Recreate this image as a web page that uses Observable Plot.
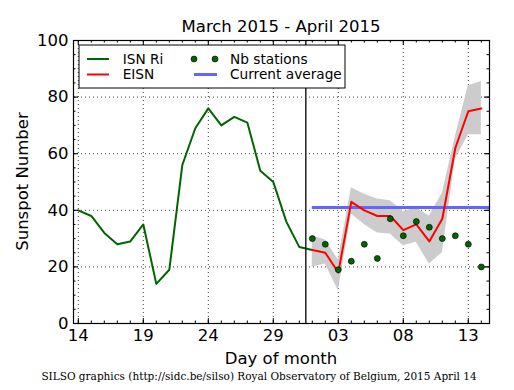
<!DOCTYPE html>
<html><head><meta charset="utf-8">
<script src="https://cdn.jsdelivr.net/npm/d3@7"></script>
<script src="https://cdn.jsdelivr.net/npm/@observablehq/plot@0.6"></script>
<style>body{margin:0;background:#fff}</style>
</head><body><div id="chart"></div>
<script>
// Day index 0 = 14 March 2015
const isnDays = [0,1,2,3,4,5,6,7,8,9,10,11,12,13,14,15,16,17,18];
const isnValues = [40,38,32,28,29,35,14,19,56,69,76,70,73,71,54,50,36,27,26];
const eisnDays = [18,19,20,21,22,23,24,25,26,27,28,29,30,31];
const eisnValues = [26,25,18,43,40,38,38,33,35,29,37,62,75,76];
const eisnUpper = [31,29.5,22.5,48,45.7,44,43.4,39.5,40.8,38,46,66,84,85.5];
const eisnLower = [20,21,11.6,38.7,35,32,31.6,27.5,28.7,21,25,58,66.7,66.7];
const stationValues = [30,28,19,22,28,23,37,31,36,34,30,31,28,20];
const currentAverage = 41;
const averageStart = 18;
const monthBreak = 17.5;
const xTickDays = [0,5,10,15,20,25,30];
const xTickLabels = ["14","19","24","29","03","08","13"];
const yTicks = [0,20,40,60,80,100];
const title = "March 2015 - April 2015";
const xLabel = "Day of month";
const yLabel = "Sunspot Number";
const caption = "SILSO graphics (http://sidc.be/silso) Royal Observatory of Belgium, 2015 April 14";
const legendItems = ["ISN Ri","EISN","Nb stations","Current average"];

const W = 514, H = 390, mL = 73, mR = 25, mT = 40, mB = 67;
const innerW = W - mL - mR, innerH = H - mT - mB;
const xDomain = [-0.37, 31.63];
const minorX = d3.range(0, 32);
const minorY = d3.range(5, 100, 5);

const isn = isnDays.map((d, i) => ({day: d, value: isnValues[i]}));
const eisn = eisnDays.map((d, i) => ({day: d, value: eisnValues[i], upper: eisnUpper[i], lower: eisnLower[i], stations: stationValues[i]}));

const green = "#006400", red = "#ff0000", blue = "#6464ff";
const font = "DejaVu Sans";

const chart = Plot.plot({
  width: W, height: H,
  marginLeft: mL, marginRight: mR, marginTop: mT, marginBottom: mB,
  x: {domain: xDomain, axis: null},
  y: {domain: [0, 100], axis: null},
  style: {fontFamily: font, background: "#fff", color: "#000"},
  marks: [
    Plot.ruleX(xTickDays, {x: d => d, stroke: "#000", strokeOpacity: 0.75, strokeDasharray: "1,3"}),
    Plot.ruleY([20,40,60,80], {y: d => d, stroke: "#000", strokeOpacity: 0.75, strokeDasharray: "1,3"}),
    Plot.areaY(eisn, {x: "day", y1: "lower", y2: "upper", fill: "#cccccc"}),
    Plot.line(isn, {x: "day", y: "value", stroke: green, strokeWidth: 2}),
    Plot.ruleY([currentAverage], {y: d => d, x1: averageStart, x2: xDomain[1], stroke: blue, strokeWidth: 3}),
    Plot.line(eisn, {x: "day", y: "value", stroke: red, strokeWidth: 2}),
    Plot.ruleX([monthBreak], {x: d => d, stroke: "#222", strokeWidth: 1.5}),
    Plot.dot(eisn, {x: "day", y: "stations", r: 3, fill: green, stroke: "#000", strokeWidth: 0.6}),
    // ticks (inside, all four sides)
    Plot.tickX(minorX, {x: d => d, insetTop: innerH - 2.5, stroke: "#000"}),
    Plot.tickX(minorX, {x: d => d, insetBottom: innerH - 2.5, stroke: "#000"}),
    Plot.tickX(xTickDays, {x: d => d, insetTop: innerH - 5, stroke: "#000"}),
    Plot.tickX(xTickDays, {x: d => d, insetBottom: innerH - 5, stroke: "#000"}),
    Plot.tickY(minorY, {y: d => d, insetRight: innerW - 2.5, stroke: "#000"}),
    Plot.tickY(minorY, {y: d => d, insetLeft: innerW - 2.5, stroke: "#000"}),
    Plot.tickY(yTicks, {y: d => d, insetRight: innerW - 5, stroke: "#000"}),
    Plot.tickY(yTicks, {y: d => d, insetLeft: innerW - 5, stroke: "#000"}),
    Plot.frame({stroke: "#000", strokeWidth: 1.2}),
    Plot.text(xTickDays, {x: d => d, text: (d, i) => xTickLabels[i], frameAnchor: "bottom", dy: 6, lineAnchor: "top", fontSize: 16.5, fill: "#000"}),
    Plot.text(yTicks, {y: d => d, text: d => String(d), frameAnchor: "left", dx: -5, textAnchor: "end", fontSize: 16.5, fill: "#000"})
  ]
});

const svg = d3.select(chart);
const addText = (x, y, str, size, family, anchor) => svg.append("text")
  .attr("x", x).attr("y", y).attr("text-anchor", anchor)
  .attr("font-family", family).attr("font-size", size).attr("fill", "#000").text(str);
// title and axis labels
addText(mL + innerW / 2, 31.5, title, 16.5, font, "middle");
addText(mL + innerW / 2, 363.5, xLabel, 16.5, font, "middle");
svg.append("text").attr("transform", `translate(28,${mT + innerH / 2}) rotate(-90)`).attr("text-anchor", "middle")
  .attr("font-family", font).attr("font-size", 16.5).attr("fill", "#000").text(yLabel);
addText(259, 379.5, caption, 10.5, "DejaVu Serif", "middle");

// legend
const lg = svg.append("g");
lg.append("rect").attr("x", 79).attr("y", 45).attr("width", 266).attr("height", 43)
  .attr("fill", "#fff").attr("stroke", "#000").attr("stroke-width", 1);
lg.append("line").attr("x1", 87).attr("x2", 109).attr("y1", 59).attr("y2", 59).attr("stroke", green).attr("stroke-width", 2);
lg.append("line").attr("x1", 87).attr("x2", 109).attr("y1", 74.5).attr("y2", 74.5).attr("stroke", red).attr("stroke-width", 2);
lg.append("circle").attr("cx", 194).attr("cy", 59).attr("r", 3).attr("fill", green).attr("stroke", "#000").attr("stroke-width", 0.6);
lg.append("circle").attr("cx", 215).attr("cy", 59).attr("r", 3).attr("fill", green).attr("stroke", "#000").attr("stroke-width", 0.6);
lg.append("line").attr("x1", 194).attr("x2", 217).attr("y1", 74.5).attr("y2", 74.5).attr("stroke", blue).attr("stroke-width", 3);
const lt = [[122.7, 63.5, 0], [122.7, 79, 1], [230, 63.5, 2], [230, 79, 3]];
lt.forEach(([x, y, i]) => lg.append("text").attr("x", x).attr("y", y).attr("text-anchor", "start")
  .attr("font-family", font).attr("font-size", 13.7).attr("fill", "#000").text(legendItems[i]));

document.getElementById("chart").appendChild(chart);
</script>
</body></html>
